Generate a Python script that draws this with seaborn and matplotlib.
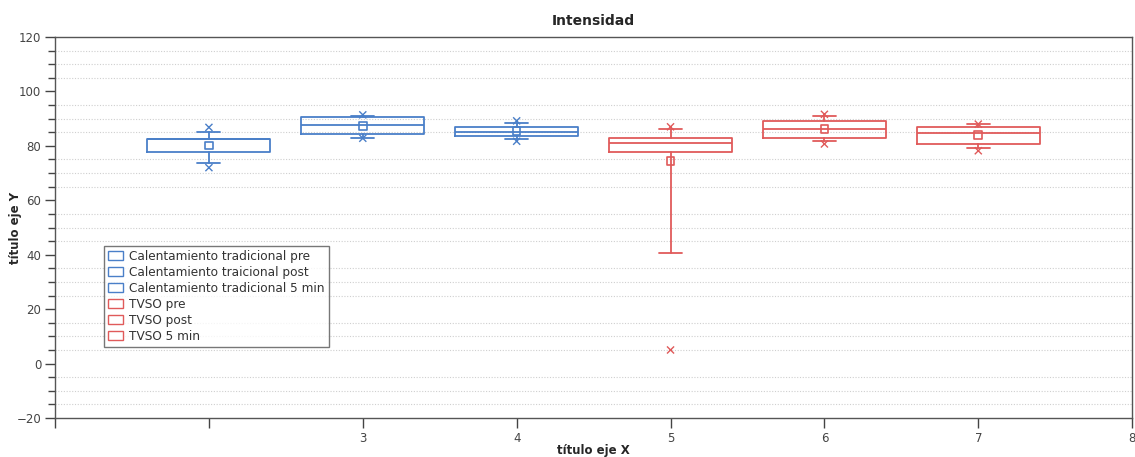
import matplotlib
matplotlib.use("Agg")
import matplotlib.pyplot as plt
import matplotlib.patches as mpatches
from matplotlib.ticker import MultipleLocator, FixedLocator
import seaborn as sns
import pandas as pd

# ---- data ----
groups = ["Calentamiento tradicional pre", "Calentamiento traicional post",
          "Calentamiento tradicional 5 min", "TVSO pre", "TVSO post", "TVSO 5 min"]
positions = [2, 3, 4, 5, 6, 7]
q1 = [77.6, 84.2, 83.6, 77.6, 82.8, 80.8]
median = [82.5, 87.7, 85.0, 80.9, 86.3, 84.6]
q3 = [82.6, 90.7, 86.8, 83.0, 89.0, 86.8]
whisker_low = [73.8, 83.0, 82.4, 40.5, 81.8, 79.3]
whisker_high = [85.0, 91.1, 88.5, 86.1, 91.1, 87.9]
means = [80.1, 87.4, 85.5, 74.4, 86.1, 84.0]
minimum = [72.0, 82.8, 81.7, 5.0, 80.7, 78.2]
maximum = [86.8, 91.4, 89.2, 87.0, 91.6, 88.0]
x_tick_values = [1, 2, 3, 4, 5, 6, 7, 8]
x_tick_labels = ["", "", "3", "4", "5", "6", "7", "8"]
title = "Intensidad"
xlabel = "título eje X"
ylabel = "título eje Y"

BLUE = "#4a7fc8"
RED = "#e05a5a"
colors = [BLUE, BLUE, BLUE, RED, RED, RED]

sns.set_theme(style="white")
plt.rcParams["font.family"] = ["DejaVu Sans"]

fig = plt.figure(figsize=(11.35, 4.57), dpi=100)
ax = fig.add_axes([0.0485, 0.0853, 0.949, 0.8337])

for i in range(len(groups)):
    st = [dict(med=median[i], q1=q1[i], q3=q3[i], whislo=whisker_low[i],
               whishi=whisker_high[i], fliers=[], label=groups[i])]
    c = colors[i]
    ax.bxp(st, positions=[positions[i]], widths=0.8, capwidths=0.15,
           showfliers=False, manage_ticks=False,
           boxprops=dict(color=c, linewidth=1.3),
           medianprops=dict(color=c, linewidth=1.3),
           whiskerprops=dict(color=c, linewidth=1.3),
           capprops=dict(color=c, linewidth=1.3))

df_mean = pd.DataFrame({"x": positions, "y": means, "g": groups})
sns.scatterplot(data=df_mean, x="x", y="y", hue="g", palette=colors, marker="s",
                s=30, linewidth=1.2, legend=False, ax=ax, zorder=5)
# hollow squares
ax.collections[-1].set_facecolor("none")
ax.collections[-1].set_edgecolor(colors)

df_ext = pd.DataFrame({"x": positions * 2, "y": minimum + maximum,
                       "g": groups * 2})
sns.scatterplot(data=df_ext, x="x", y="y", hue="g", palette=colors, marker="x",
                s=26, linewidth=1.0, legend=False, ax=ax, zorder=5)

ax.set_xlim(1, 8)
ax.set_ylim(-20, 120)
ax.xaxis.set_major_locator(FixedLocator(x_tick_values))
ax.set_xticklabels(x_tick_labels)
ax.yaxis.set_major_locator(MultipleLocator(20))
ax.yaxis.set_minor_locator(MultipleLocator(5))
ax.grid(False)
for v in range(-15, 120, 5):
    if v % 20 != 0:
        ax.axhline(v, color="#cfcfcf", linewidth=0.8, linestyle=(0, (1, 1.5)),
                   zorder=0)

ax.tick_params(axis="both", which="major", direction="out", length=7,
               width=1, color="#444444", labelsize=8.5, labelcolor="#444444",
               bottom=True, left=True, pad=3)
ax.tick_params(axis="y", which="minor", direction="out", length=5, width=1,
               color="#444444", left=True)
for s in ax.spines.values():
    s.set_color("#555555")
    s.set_linewidth(1.0)

ax.set_title(title, fontsize=10, fontweight="bold", pad=9)
ax.set_xlabel(xlabel, fontsize=8.5, fontweight="bold")
ax.set_ylabel(ylabel, fontsize=8.5, fontweight="bold")
ax.xaxis.set_label_coords(0.5, -0.068)
ax.yaxis.set_label_coords(-0.031, 0.5)

handles = [mpatches.Patch(facecolor="white", edgecolor=c, linewidth=1.0, label=g)
           for g, c in zip(groups, colors)]
leg = ax.legend(handles=handles, loc="lower left", bbox_to_anchor=(0.045, 0.186),
                fontsize=8.7, frameon=True, fancybox=False, borderpad=0.35,
                labelspacing=0.25, handlelength=1.3, handleheight=0.8,
                handletextpad=0.5, borderaxespad=0)
leg.get_frame().set_edgecolor("#555555")
leg.get_frame().set_linewidth(1.0)
for t in leg.get_texts():
    t.set_color("#333333")

fig.savefig("out.png", dpi=100)
